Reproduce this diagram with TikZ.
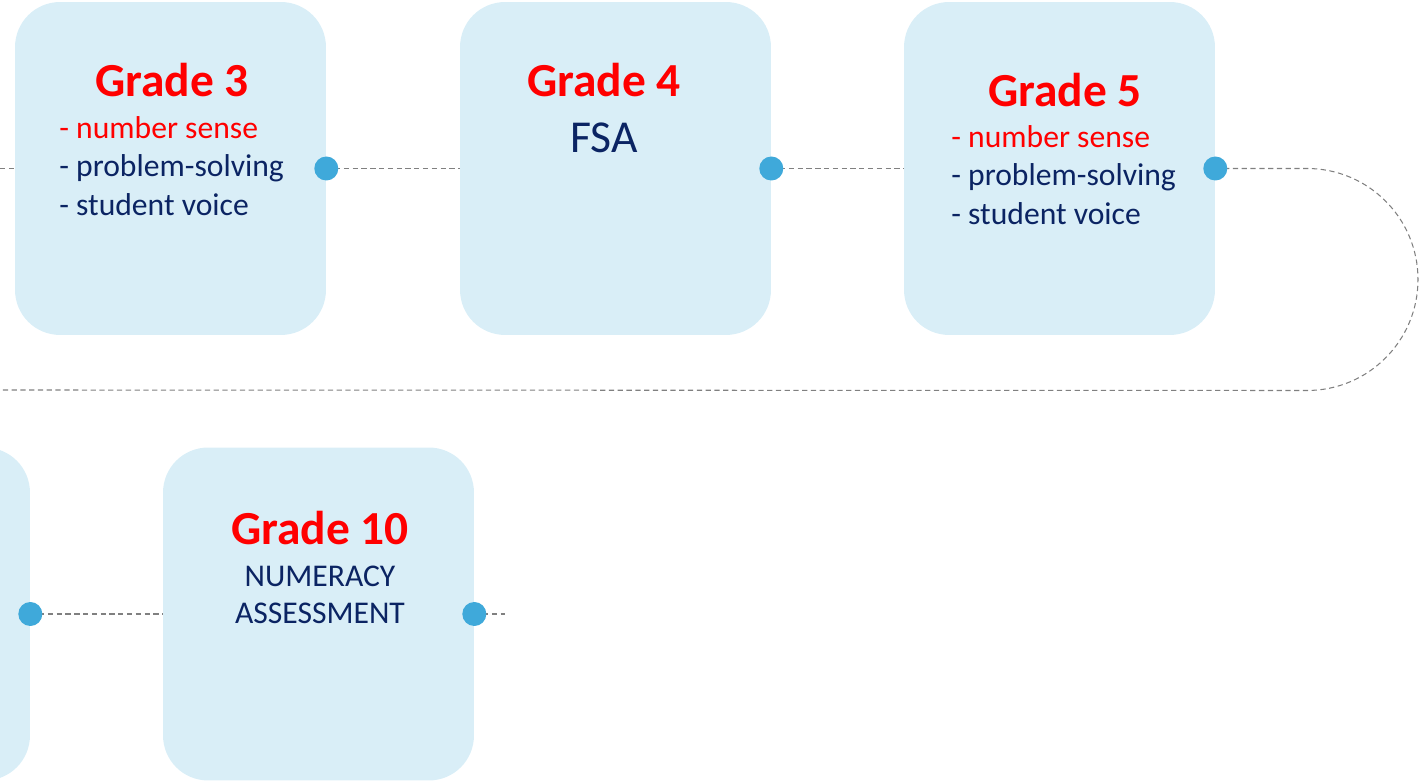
\documentclass[tikz,border=0pt]{standalone}
\usepackage{fontspec}
\setmainfont{Carlito}
\definecolor{boxfill}{HTML}{D9EEF7}
\definecolor{dotblue}{HTML}{3FA9DA}
\definecolor{navy}{HTML}{0B2463}
\definecolor{gradered}{HTML}{FF0000}
\begin{document}
\begin{tikzpicture}
        [
            x=0.02cm, y=-0.02cm,
            grade/.style={rectangle, rounded corners=0.9cm, fill=boxfill, minimum width=6.22cm, minimum height=6.66cm, inner sep=0pt},
            dot/.style={circle, fill=dotblue, minimum size=0.48cm, inner sep=0pt},
            link/.style={densely dashed, gray, line width=0.6pt},
            title/.style={text=gradered, font=\fontsize{27}{30}\selectfont\bfseries},
            items/.style={text=navy, font=\fontsize{18}{22}\selectfont, align=left, anchor=north west, inner sep=0pt},
        ]
            \clip (0,0) rectangle (1428,783);
            \useasboundingbox (0,0) rectangle (1428,783);

            \coordinate (in3) at (0,168.5);
            \coordinate (turn) at (1307,168.5);
            \coordinate (back) at (0,390);
            \coordinate (out10) at (505,614);

            % top row
            \node[grade] (G3) at (170.5,168.5) {};
            \node[grade] (G4) at (615.5,168.5) {};
            \node[grade] (G5) at (1059.5,168.5) {};
            % bottom row
            \node[grade] (G9) at (-125.5,614) {};
            \node[grade] (G10) at (318.5,614) {};

            \draw[link] (in3) -- (G3.west);
            \draw[link] (G3.east) -- (G4.west);
            \draw[link] (G4.east) -- (G5.west);
            \draw[link] (G5.east) -- (turn) arc[start angle=-90, end angle=90, radius=111] -- (back);
            \draw[link] (G9.east) -- (G10.west);
            \draw[link] (G10.east) -- (out10);

            \node[dot] (D3) at (G3.east) {};
            \node[dot] (D4) at (G4.east) {};
            \node[dot] (D5) at (G5.east) {};
            \node[dot] (D9) at (G9.east) {};
            \node[dot] (D10) at (G10.east) {};

            \node[title] (T3) at (172,80) {Grade 3};
            \node[items] (L3) at (59,116) {\textcolor{gradered}{- number sense}\\- problem-solving\\- student voice};

            \node[title] (T4) at (604,80) {Grade 4};
            \node[text=navy, font=\fontsize{26}{30}\selectfont] (S4) at (604,138) {FSA};

            \node[title] (T5) at (1065,90) {Grade 5};
            \node[items] (L5) at (951,125) {\textcolor{gradered}{- number sense}\\- problem-solving\\- student voice};

            \node[title] (T10) at (320,528) {Grade 10};
            \node[text=navy, font=\fontsize{18}{21}\selectfont, align=center] (S10) at (320,595) {NUMERACY\\ASSESSMENT};
        \end{tikzpicture}
\end{document}
